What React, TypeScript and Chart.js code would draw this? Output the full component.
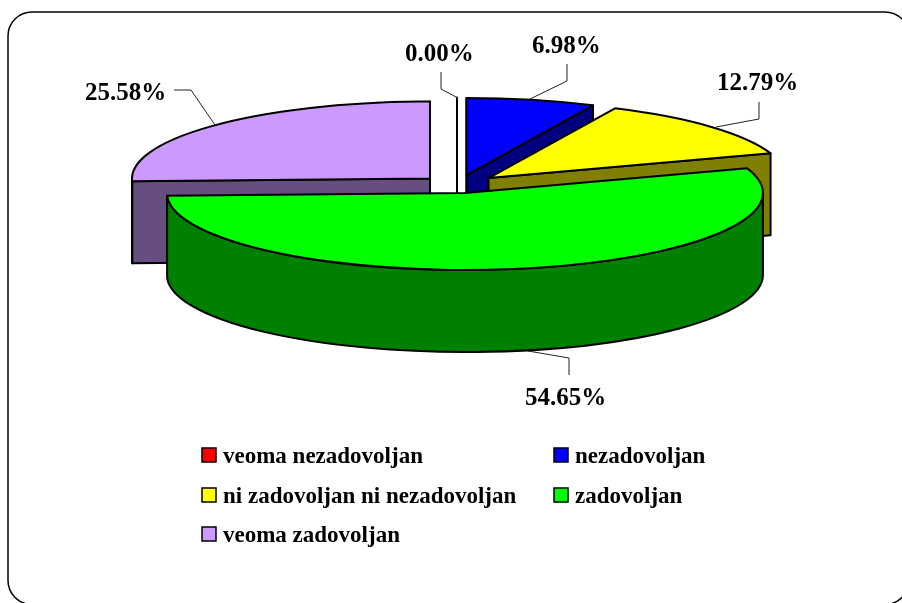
import React, { useEffect, useRef } from "react";
import { Chart, registerables } from "chart.js";

Chart.register(...registerables);

const categories = ["veoma nezadovoljan", "nezadovoljan", "ni zadovoljan ni nezadovoljan", "zadovoljan", "veoma zadovoljan"];
const shares = [0.0, 6.98, 12.79, 54.65, 25.58];
const sliceColors = ["#FF0000", "#0000FF", "#FFFF00", "#00FF00", "#CC99FF"];
const wallColors = ["#800000", "#000080", "#808000", "#008000", "#664E80"];
const explode = [43.6, 43.6, 42.3, 43.6, 37.5];
const paintOrder = [4, 0, 1, 2, 3];

const RADIUS = 298;
const TILT = 77 / 298;
const EXPLODE_TILT = 0.21;
const DEPTH = 82;
const SERIF = '"Liberation Serif", "Times New Roman", serif';

// leader: label anchor [x, baseline] and polyline of its connector
const labelLayout = [
  { x: 405, y: 61, line: [[441, 72], [441, 89], [458, 98]] },
  { x: 532, y: 53, line: [[567, 64], [567, 81], [530, 99]] },
  { x: 717, y: 90, line: [[759, 102], [759, 119], [716, 127]] },
  { x: 525, y: 405, line: [[569, 375], [569, 358], [528, 351]] },
  { x: 85, y: 100, line: [[174, 90], [191, 90], [215, 125]] },
];
const legendLayout = [
  { x: 202, y: 448 },
  { x: 554, y: 448 },
  { x: 202, y: 488 },
  { x: 554, y: 488 },
  { x: 202, y: 527 },
];

const pie3d = {
  id: "pie3d",
  beforeDatasetsDraw(chart: any) {
    const ctx: CanvasRenderingContext2D = chart.ctx;
    const arcs = chart.getDatasetMeta(0).data;
    ctx.save();
    ctx.lineWidth = 2;
    ctx.lineJoin = "round";
    ctx.strokeStyle = "#000000";
    for (const i of paintOrder) {
      const arc = arcs[i];
      const { x, y, startAngle: a0, endAngle: a1, outerRadius: r } = arc.getProps(["x", "y", "startAngle", "endAngle", "outerRadius"]);
      const mid = (a0 + a1) / 2;
      const off = arc.options.offset;
      const cx = x + Math.cos(mid) * off;
      const cy = y + Math.sin(mid) * off * EXPLODE_TILT;
      const px = (a: number) => cx + r * Math.cos(a);
      const py = (a: number) => cy + r * TILT * Math.sin(a);

      // radial walls that face the viewer
      const wall = (a: number) => {
        ctx.beginPath();
        ctx.moveTo(cx, cy);
        ctx.lineTo(px(a), py(a));
        ctx.lineTo(px(a), py(a) + DEPTH);
        ctx.lineTo(cx, cy + DEPTH);
        ctx.closePath();
        ctx.fillStyle = wallColors[i];
        ctx.fill();
        ctx.stroke();
      };
      if (Math.cos(a1) > -1e-6) wall(a1);
      if (Math.cos(a0) < 1e-6) wall(a0);

      // curved outer wall, front half only
      const w0 = Math.max(a0, 0);
      const w1 = Math.min(a1, Math.PI);
      if (w1 > w0) {
        ctx.beginPath();
        ctx.ellipse(cx, cy, r, r * TILT, 0, w0, w1);
        ctx.lineTo(px(w1), py(w1) + DEPTH);
        ctx.ellipse(cx, cy + DEPTH, r, r * TILT, 0, w1, w0, true);
        ctx.closePath();
        ctx.fillStyle = wallColors[i];
        ctx.fill();
        ctx.stroke();
      }

      // top face
      ctx.beginPath();
      ctx.moveTo(cx, cy);
      ctx.ellipse(cx, cy, r, r * TILT, 0, a0, a1);
      ctx.closePath();
      ctx.fillStyle = arc.options.backgroundColor;
      ctx.fill();
      ctx.stroke();
    }
    ctx.restore();
    return false;
  },
  afterDraw(chart: any) {
    const ctx: CanvasRenderingContext2D = chart.ctx;
    const labels: string[] = chart.data.labels;
    const values: number[] = chart.data.datasets[0].data;
    ctx.save();
    // frame
    ctx.strokeStyle = "#000000";
    ctx.lineWidth = 1.5;
    ctx.beginPath();
    ctx.roundRect(8, 12, 901, 592.5, 24);
    ctx.stroke();

    // leaders
    ctx.lineWidth = 1;
    ctx.strokeStyle = "#222222";
    labelLayout.forEach((l) => {
      ctx.beginPath();
      l.line.forEach(([px, py], k) => (k ? ctx.lineTo(px, py) : ctx.moveTo(px, py)));
      ctx.stroke();
    });

    // value labels
    ctx.fillStyle = "#000000";
    ctx.font = `bold 25px ${SERIF}`;
    ctx.textBaseline = "alphabetic";
    values.forEach((v, i) => ctx.fillText(`${v.toFixed(2)}%`, labelLayout[i].x, labelLayout[i].y));

    // legend
    labels.forEach((name, i) => {
      const { x, y } = legendLayout[i];
      ctx.fillStyle = sliceColors[i];
      ctx.fillRect(x, y, 14, 14);
      ctx.strokeStyle = "#000000";
      ctx.lineWidth = 1.5;
      ctx.strokeRect(x, y, 14, 14);
      ctx.fillStyle = "#000000";
      ctx.font = `bold 23px ${SERIF}`;
      ctx.fillText(name, x + 21, y + 15);
    });
    ctx.restore();
  },
};

export default function App() {
  const ref = useRef<HTMLCanvasElement>(null);
  useEffect(() => {
    document.body.style.margin = "0";
    const chart = new Chart(ref.current!, {
      type: "pie",
      data: {
        labels: categories,
        datasets: [
          {
            data: shares,
            backgroundColor: sliceColors,
            borderColor: "#000000",
            borderWidth: 0,
            offset: explode,
          },
        ],
      },
      options: {
        animation: false,
        responsive: false,
        events: [],
        radius: RADIUS,
        layout: { padding: { left: 12, right: 0, top: 0, bottom: 235 } },
        plugins: { legend: { display: false }, tooltip: { enabled: false }, title: { display: false } },
      },
      plugins: [pie3d],
    } as any);
    return () => chart.destroy();
  }, []);
  return <canvas ref={ref} width={902} height={603} style={{ display: "block", background: "#ffffff" }} />;
}
